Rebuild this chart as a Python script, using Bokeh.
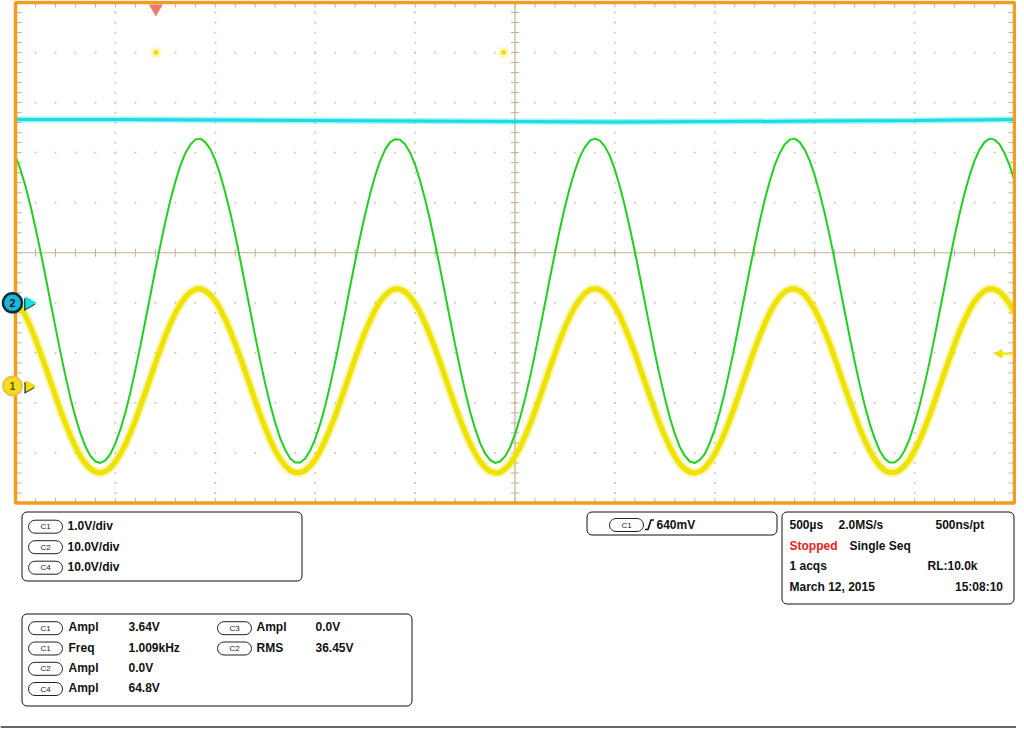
import math
from bokeh.plotting import figure
from bokeh.models import Range1d
from bokeh.layouts import column
from bokeh.core.properties import value
from bokeh.embed import file_html
from bokeh.resources import INLINE

# ------------------------------------------------------------------ data
# record sample instants (microseconds from the left edge of the graticule, 500 us/div)
t_us = list(range(0, 5001, 25))

# channel 1 (yellow), volts, read every 25 us
c1_volts = [1.74, 1.59, 1.40, 1.18, 0.93, 0.66, 0.38, 0.09, -0.20, -0.49,
            -0.75, -1.00, -1.22, -1.41, -1.55, -1.66, -1.72, -1.74, -1.71, -1.64,
            -1.52, -1.36, -1.17, -0.94, -0.69, -0.41, -0.13, 0.16, 0.45, 0.73,
            1.00, 1.24, 1.45, 1.63, 1.77, 1.87, 1.93, 1.94, 1.90, 1.82,
            1.70, 1.53, 1.33, 1.10, 0.84, 0.57, 0.28, -0.01, -0.30, -0.58,
            -0.84, -1.08, -1.29, -1.46, -1.59, -1.69, -1.73, -1.73, -1.69, -1.60,
            -1.47, -1.30, -1.09, -0.85, -0.60, -0.32, -0.03, 0.26, 0.55, 0.82,
            1.08, 1.31, 1.52, 1.69, 1.81, 1.90, 1.94, 1.93, 1.88, 1.78,
            1.64, 1.47, 1.25, 1.01, 0.75, 0.47, 0.18, -0.11, -0.40, -0.67,
            -0.92, -1.15, -1.35, -1.51, -1.63, -1.71, -1.74, -1.73, -1.66, -1.56,
            -1.41, -1.23, -1.01, -0.77, -0.50, -0.22, 0.07, 0.36, 0.64, 0.92,
            1.17, 1.39, 1.58, 1.73, 1.85, 1.92, 1.94, 1.92, 1.85, 1.74,
            1.59, 1.40, 1.17, 0.92, 0.66, 0.37, 0.08, -0.21, -0.49, -0.76,
            -1.00, -1.22, -1.41, -1.56, -1.66, -1.72, -1.74, -1.71, -1.64, -1.52,
            -1.36, -1.16, -0.93, -0.68, -0.41, -0.12, 0.17, 0.46, 0.74, 1.00,
            1.24, 1.46, 1.64, 1.78, 1.88, 1.93, 1.94, 1.90, 1.82, 1.69,
            1.53, 1.32, 1.09, 0.84, 0.56, 0.27, -0.02, -0.31, -0.58, -0.85,
            -1.08, -1.29, -1.46, -1.60, -1.69, -1.73, -1.73, -1.69, -1.60, -1.47,
            -1.29, -1.09, -0.85, -0.59, -0.31, -0.02, 0.27, 0.55, 0.83, 1.09,
            1.32, 1.52, 1.69, 1.81, 1.90, 1.94, 1.93, 1.88, 1.78, 1.64,
            1.46]

# channel 4 (green), volts, read every 25 us
c4_volts = [28.9, 26.2, 22.9, 19.0, 14.6, 9.9, 4.9, -0.2, -5.3, -10.3,
            -15.0, -19.4, -23.2, -26.5, -29.1, -31.0, -32.1, -32.4, -31.9, -30.6,
            -28.5, -25.7, -22.3, -18.3, -13.8, -9.0, -4.0, 1.1, 6.2, 11.1,
            15.8, 20.1, 23.8, 27.0, 29.5, 31.2, 32.2, 32.4, 31.7, 30.3,
            28.1, 25.2, 21.6, 17.6, 13.1, 8.2, 3.1, -2.0, -7.1, -12.0,
            -16.6, -20.7, -24.4, -27.5, -29.8, -31.5, -32.3, -32.3, -31.5, -29.9,
            -27.6, -24.6, -21.0, -16.8, -12.2, -7.4, -2.3, 2.9, 7.9, 12.8,
            17.3, 21.4, 25.0, 27.9, 30.2, 31.7, 32.3, 32.2, 31.3, 29.6,
            27.2, 24.0, 20.3, 16.1, 11.4, 6.5, 1.4, -3.7, -8.7, -13.5,
            -18.0, -22.1, -25.5, -28.4, -30.5, -31.8, -32.4, -32.1, -31.1, -29.3,
            -26.7, -23.4, -19.6, -15.3, -10.6, -5.6, -0.6, 4.6, 9.6, 14.4,
            18.8, 22.7, 26.0, 28.8, 30.7, 32.0, 32.4, 32.0, 30.8, 28.9,
            26.2, 22.8, 18.9, 14.5, 9.8, 4.8, -0.3, -5.4, -10.4, -15.1,
            -19.4, -23.3, -26.6, -29.2, -31.0, -32.1, -32.4, -31.8, -30.6, -28.4,
            -25.7, -22.2, -18.2, -13.7, -8.9, -3.9, 1.2, 6.3, 11.2, 15.9,
            20.2, 23.9, 27.1, 29.5, 31.3, 32.2, 32.4, 31.7, 30.2, 28.0,
            25.1, 21.5, 17.5, 13.0, 8.1, 3.0, -2.1, -7.2, -12.1, -16.7,
            -20.8, -24.5, -27.5, -29.9, -31.5, -32.3, -32.3, -31.5, -29.9, -27.6,
            -24.5, -20.9, -16.7, -12.2, -7.3, -2.2, 2.9, 8.0, 12.9, 17.4,
            21.5, 25.0, 28.0, 30.2, 31.7, 32.4, 32.2, 31.3, 29.5, 27.1,
            24.0]

# channel 2 (cyan), DC level, volts
c2_t_us = [0, 500, 1000, 1500, 2000, 2500, 3000, 3500, 4000, 4500, 5000]
c2_volts = [36.6, 36.6, 36.5, 36.4, 36.3, 36.2, 36.1, 36.2, 36.3, 36.4, 36.6]

# vertical settings (V/div) and ground positions (divisions from centre)
c1_scale, c1_pos = 1.0, -2.66
c2_scale, c2_pos = 10.0, -1.0
c4_scale, c4_pos = 10.0, -0.96
trig_time_us = 702.5
trig_level_v = 0.64

vdiv_channels = ["C1", "C2", "C4"]
vdiv_labels = ["1.0V/div", "10.0V/div", "10.0V/div"]

meas_channels = ["C1", "C1", "C2", "C4", "C3", "C2"]
meas_names = ["Ampl", "Freq", "Ampl", "Ampl", "Ampl", "RMS"]
meas_values = ["3.64V", "1.009kHz", "0.0V", "64.8V", "0.0V", "36.45V"]

trig_channel = "C1"
trig_label = "640mV"

acq_row1 = ["500\u00b5s", "2.0MS/s", "500ns/pt"]
acq_state = ["Stopped", "Single Seq"]
acq_row3 = ["1 acqs", "RL:10.0k"]
acq_row4 = ["March 12, 2015", "15:08:10"]

# ------------------------------------------------------------------ styles
YELLOW = "#efe200"
GREEN = "#1fd01f"
CYAN = "#16dde6"
ORANGE = "#f39c20"
TICK = "#c4ae96"
DOT = "#cdc6bd"
FONT = value("Liberation Sans")

FIG_W, TOP_H, BOT_H = 1016, 506, 222
FRAME_L, FRAME_R, FRAME_T, FRAME_B = 15, 1014, 2, 502.5
T_SPAN, DIVS = 5000.0, 5.0
px_us = (FRAME_R - FRAME_L) / T_SPAN
px_div = (FRAME_B - FRAME_T) / (2 * DIVS)
x_start = -FRAME_L / px_us
x_end = T_SPAN + (FIG_W - FRAME_R) / px_us
y_top = DIVS + FRAME_T / px_div
y_bot = -DIVS - (TOP_H - FRAME_B) / px_div


def ch_range(scale, pos):
    return Range1d((y_bot - pos) * scale, (y_top - pos) * scale)


p1 = figure(width=FIG_W, height=TOP_H, x_range=Range1d(x_start, x_end),
            y_range=Range1d(y_bot, y_top), output_backend="svg",
            toolbar_location=None, x_axis_location=None, y_axis_location=None,
            min_border=0, outline_line_color=None, background_fill_color="white",
            border_fill_color="white")
p1.xgrid.visible = False
p1.ygrid.visible = False
p1.extra_y_ranges = {"c1": ch_range(c1_scale, c1_pos),
                     "c2": ch_range(c2_scale, c2_pos),
                     "c4": ch_range(c4_scale, c4_pos)}

# dotted graticule
dx, dy = [], []
for i in range(1, 10):
    if i == 5:
        continue
    for j in range(51):
        dx.append(500 * i)
        dy.append(-5 + 0.2 * j)
for i in range(-4, 5):
    if i == 0:
        continue
    for j in range(51):
        dx.append(100 * j)
        dy.append(i)
p1.scatter(dx, dy, marker="square", size=1.8, fill_color=DOT, line_color=None)

# edge ticks and centre crosshair ticks
sx0, sy0, sx1, sy1 = [], [], [], []
for j in range(1, 50):
    t = 100 * j
    sx0 += [t, t, t]; sx1 += [t, t, t]
    sy0 += [5, -5, -0.08]; sy1 += [5 - 0.1, -5 + 0.1, 0.08]
for j in range(1, 50):
    y = -5 + 0.2 * j
    sx0 += [0, 5000, 2500 - 20]; sx1 += [30, 5000 - 30, 2500 + 20]
    sy0 += [y, y, y]; sy1 += [y, y, y]
p1.segment(sx0, sy0, sx1, sy1, line_color=TICK, line_width=1)
p1.segment([2500, 0], [-5, 0], [2500, 5000], [5, 0], line_color=TICK, line_width=1.2)

# traces
p1.line(t_us, c1_volts, y_range_name="c1", line_color=YELLOW, line_width=9, line_alpha=0.35, line_join="round")
p1.line(t_us, c1_volts, y_range_name="c1", line_color=YELLOW, line_width=5, line_join="round")
p1.line(t_us, c4_volts, y_range_name="c4", line_color=GREEN, line_width=2, line_join="round")
p1.line(c2_t_us, c2_volts, y_range_name="c2", line_color=CYAN, line_width=6, line_alpha=0.4)
p1.line(c2_t_us, c2_volts, y_range_name="c2", line_color=CYAN, line_width=3)

# border
p1.quad(left=[0], right=[5000], bottom=[-5], top=[5], fill_color=None,
        line_color=ORANGE, line_width=3.5)

# trigger position marker and expansion dots
p1.scatter([trig_time_us], [4.88], marker="inverted_triangle", size=14,
           fill_color="#f07a68", line_color=None)
p1.scatter([trig_time_us, 2442.5], [4, 4], marker="circle", size=11,
           fill_color=YELLOW, fill_alpha=0.25, line_color=None)
p1.scatter([trig_time_us, 2442.5], [4, 4], marker="circle", size=5,
           fill_color=YELLOW, line_color=None)

# trigger level arrow (right edge)
p1.segment([4935], [trig_level_v], [4988], [trig_level_v], y_range_name="c1",
           line_color=YELLOW, line_width=3, line_alpha=0.8)
p1.scatter([4925], [trig_level_v], y_range_name="c1", marker="triangle",
           angle=math.pi / 2, size=10, fill_color=YELLOW, line_color=None)

# channel ground markers
p1.scatter([62], [-0.35], y_range_name="c2", marker="triangle", angle=-math.pi / 2,
           size=13, fill_color="#10303a", line_color=None)
p1.scatter([68], [0], y_range_name="c2", marker="triangle", angle=-math.pi / 2,
           size=13, fill_color=CYAN, line_color=None)
p1.scatter([-15], [0], y_range_name="c2", marker="circle", size=19,
           fill_color="#21b6d4", line_color="#0e2c3c", line_width=2.5)
p1.text([-15], [0], text=["2"], y_range_name="c2", text_align="center",
        text_baseline="middle", text_font=FONT, text_font_style="bold",
        text_font_size="11px", text_color="#0e2030")

p1.scatter([62], [-0.035], y_range_name="c1", marker="triangle", angle=-math.pi / 2,
           size=12, fill_color="#202010", line_color=None)
p1.scatter([68], [0], y_range_name="c1", marker="triangle", angle=-math.pi / 2,
           size=12, fill_color="#f3dc10", line_color=None)
p1.scatter([-15], [0], y_range_name="c1", marker="circle", size=19,
           fill_color="#f6dc1c", line_color="#e8c24a", line_width=2)
p1.text([-15], [0], text=["1"], y_range_name="c1", text_align="center",
        text_baseline="middle", text_font=FONT, text_font_style="bold",
        text_font_size="10px", text_color="#5a4a10")

# ------------------------------------------------------------------ info panel
p2 = figure(width=FIG_W, height=BOT_H, x_range=Range1d(0, FIG_W),
            y_range=Range1d(728, 506), output_backend="svg",
            toolbar_location=None, x_axis_location=None, y_axis_location=None,
            min_border=0, outline_line_color=None, background_fill_color="white",
            border_fill_color="white")
p2.xgrid.visible = False
p2.ygrid.visible = False

p2.quad(left=[21.5, 586.5, 781.5, 21.5], right=[301.5, 776.5, 1013.5, 411.5],
        top=[511.5, 511.5, 511.5, 613.5], bottom=[580.5, 534.5, 603.5, 705.5],
        fill_color=None, line_color="#111111", line_width=1, border_radius=5)

rows_a = [525.7, 546.2, 566.7]
rows_c = [524.5, 545.3, 565.8, 586.7]
rows_d = [626.7, 647.0, 667.3, 687.5]

bx, by, bt = [], [], []
for i, ch in enumerate(vdiv_channels):
    bx.append(45); by.append(rows_a[i] + 0.5); bt.append(ch)
col_badge = [45, 45, 45, 45, 234, 234]
row_idx = [0, 1, 2, 3, 0, 1]
for i, ch in enumerate(meas_channels):
    bx.append(col_badge[i]); by.append(rows_d[row_idx[i]] + 1); bt.append(ch)
bx.append(626); by.append(rows_c[0]); bt.append(trig_channel)

p2.quad(left=[x - 17 for x in bx], right=[x + 17 for x in bx],
        top=[y - 6.5 for y in by], bottom=[y + 6.5 for y in by],
        fill_color=None, line_color="#222222", line_width=1, border_radius=7)
p2.text(bx, by, text=bt, text_align="center", text_baseline="middle",
        text_font=FONT, text_font_size="8px", text_color="#222222")


def txt(xs, ys, texts, align="left", color="#111111"):
    p2.text(xs, ys, text=texts, text_align=align, text_baseline="middle",
            text_font=FONT, text_font_style="bold", text_font_size="12px",
            text_color=color)


txt([67, 67, 67], rows_a, vdiv_labels)

lab_x = [68, 68, 68, 68, 256, 256]
val_x = [128, 128, 128, 128, 315, 315]
txt(lab_x, [rows_d[r] for r in row_idx], meas_names)
txt(val_x, [rows_d[r] for r in row_idx], meas_values)

# trigger box
p2.line([644.5, 647.5, 650.5, 653.5], [529, 529, 519.5, 519.5],
        line_color="#111111", line_width=1.6)
txt([656], [rows_c[0]], [trig_label])

# acquisition box
txt([789, 838], [rows_c[0], rows_c[0]], acq_row1[:2])
txt([935], [rows_c[0]], acq_row1[2:])
txt([789], [rows_c[1]], acq_state[:1], color="#e8201c")
txt([849], [rows_c[1]], acq_state[1:])
txt([789], [rows_c[2]], acq_row3[:1])
txt([927], [rows_c[2]], acq_row3[1:])
txt([789], [rows_c[3]], acq_row4[:1])
txt([1002.5], [rows_c[3]], acq_row4[1:], align="right")

# bottom rule
p2.segment([0], [726.5], [FIG_W], [726.5], line_color="#333333", line_width=1.5)

layout = column(p1, p2)
open("out.html", "w").write(file_html(layout, INLINE))
